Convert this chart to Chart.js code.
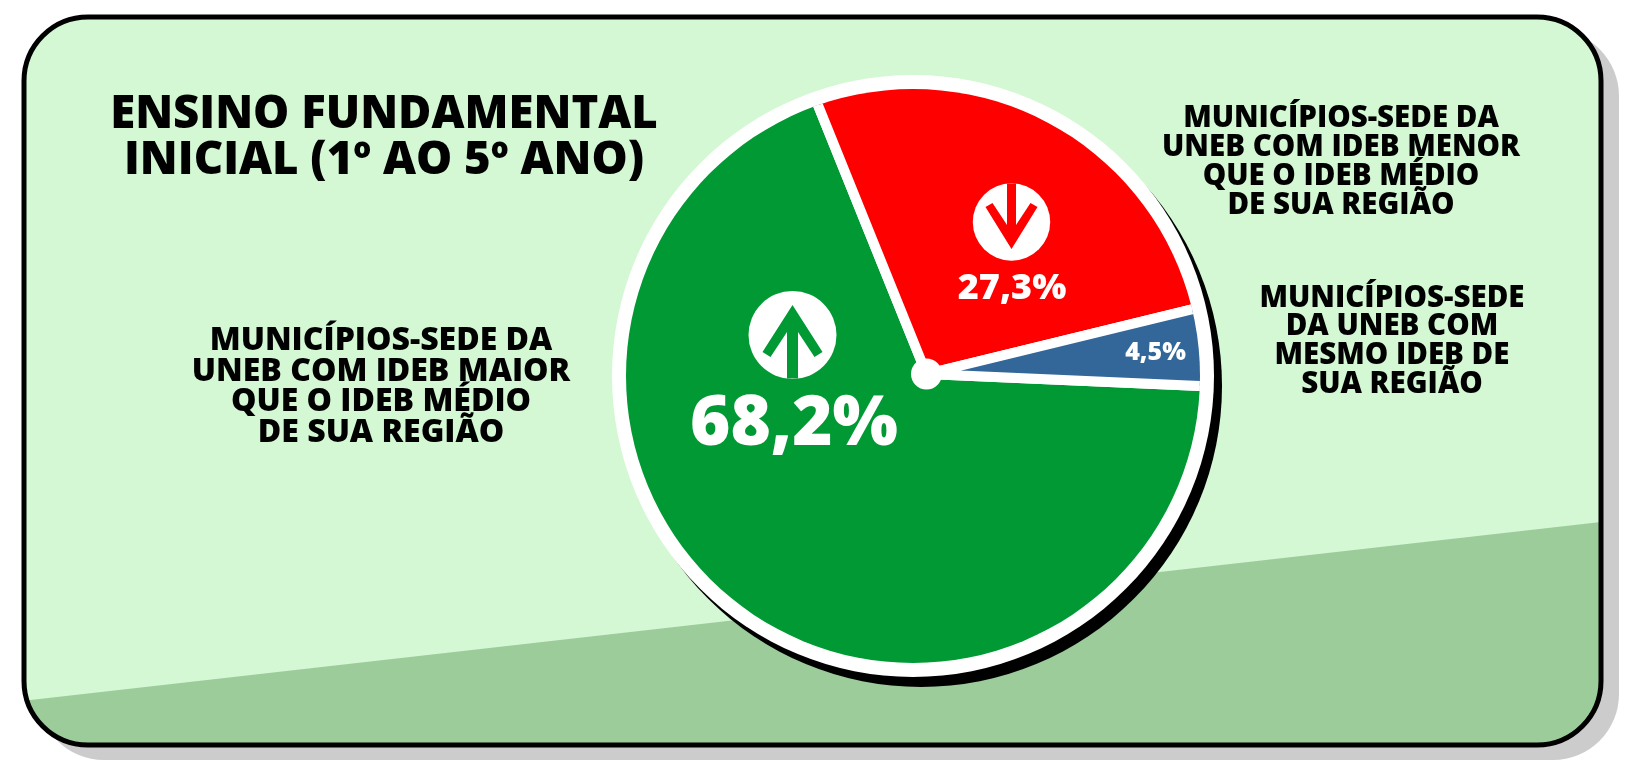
<!DOCTYPE html>
<html lang="pt-BR"><head><meta charset="utf-8">
<style>html,body{margin:0;padding:0;background:#fff;overflow:hidden}canvas{display:block}</style>
<script src="https://cdn.jsdelivr.net/npm/chart.js@4"></script>
</head><body><canvas id="c" width="1644" height="762"></canvas>
<script>
const categories = ["Municípios-sede da UNEB com IDEB maior que o IDEB médio de sua região",
  "Municípios-sede da UNEB com IDEB menor que o IDEB médio de sua região",
  "Municípios-sede da UNEB com mesmo IDEB de sua região"];
const shares = [68.2, 27.3, 4.5];
const sliceColors = ["#009933", "#FF0000", "#336699"];
const titleLines = ["ENSINO FUNDAMENTAL", "INICIAL (1º AO 5º ANO)"];
const maiorLines = ["MUNICÍPIOS-SEDE DA", "UNEB COM IDEB MAIOR", "QUE O IDEB MÉDIO", "DE SUA REGIÃO"];
const menorLines = ["MUNICÍPIOS-SEDE DA", "UNEB COM IDEB MENOR", "QUE O IDEB MÉDIO", "DE SUA REGIÃO"];
const mesmoLines = ["MUNICÍPIOS-SEDE", "DA UNEB COM", "MESMO IDEB DE", "SUA REGIÃO"];

const FONT = '"Open Sans"';
const disc = {x: 913, y: 376, r: 287, ring: 301};
const hub = {x: 926.5, y: 374, r: 15.5, reach: 340};

function poly(ctx, pts) {
  ctx.beginPath();
  pts.forEach((p, i) => i ? ctx.lineTo(p[0], p[1]) : ctx.moveTo(p[0], p[1]));
  ctx.closePath();
  ctx.fill();
}
function circle(ctx, x, y, r, color) {
  ctx.fillStyle = color;
  ctx.beginPath();
  ctx.arc(x, y, r, 0, Math.PI * 2);
  ctx.fill();
}
function card(ctx) {
  ctx.beginPath();
  ctx.roundRect(24, 17, 1577, 728, 64);
}
function textBlock(ctx, lines, cx, ys, size, weight) {
  ctx.fillStyle = "#000";
  ctx.font = `${weight} ${size}px ${FONT}`;
  ctx.textAlign = "center";
  ctx.textBaseline = "middle";
  lines.forEach((l, i) => ctx.fillText(l, cx, ys[i]));
}
const backdrop = {
  id: "backdrop",
  beforeDraw(chart) {
    const ctx = chart.ctx;
    ctx.save();
    ctx.fillStyle = "#CCCCCC";
    ctx.beginPath();
    ctx.roundRect(38, 30, 1581, 730, 66);
    ctx.fill();
    card(ctx);
    ctx.fillStyle = "#D3F8D3";
    ctx.fill();
    ctx.save();
    card(ctx);
    ctx.clip();
    ctx.fillStyle = "#9BCC9A";
    poly(ctx, [[0, 703.5], [1644, 517], [1644, 762], [0, 762]]);
    ctx.restore();
    card(ctx);
    ctx.lineWidth = 5;
    ctx.strokeStyle = "#000";
    ctx.stroke();
    circle(ctx, disc.x + 8, disc.y + 10, disc.ring, "#000");
    circle(ctx, disc.x, disc.y, disc.ring, "#fff");
    ctx.restore();
  },
  beforeDatasetsDraw(chart) {
    const ctx = chart.ctx;
    ctx.save();
    ctx.beginPath();
    ctx.arc(disc.x, disc.y, disc.r, 0, Math.PI * 2);
    ctx.clip();
  },
  afterDatasetsDraw(chart) {
    chart.ctx.restore();
  },
  afterDraw(chart) {
    const ctx = chart.ctx;
    ctx.save();
    circle(ctx, hub.x, hub.y, hub.r, "#fff");
    circle(ctx, 792.5, 335, 44, "#fff");
    ctx.fillStyle = sliceColors[0];
    poly(ctx, [[792.5,305],[822.5,352],[814.5,357],[798,332],[798,378.6],[787,378.6],[787,332],[770.5,357],[762.5,352]]);
    circle(ctx, 1011.5, 222, 38.7, "#fff");
    ctx.fillStyle = sliceColors[1];
    poly(ctx, [[1011.5,249],[985.5,207],[992.5,203],[1007,225],[1007,183.5],[1016,183.5],[1016,225],[1030.5,203],[1037.5,207]]);
    ctx.fillStyle = "#fff";
    ctx.textAlign = "center";
    ctx.textBaseline = "alphabetic";
    const fmt = v => v.toFixed(1).replace(".", ",") + "%";
    ctx.font = `800 69px ${FONT}`;
    ctx.fillText(fmt(shares[0]), 794, 445);
    ctx.font = `800 36px ${FONT}`;
    ctx.fillText(fmt(shares[1]), 1012, 299);
    ctx.font = `800 25px ${FONT}`;
    ctx.fillText(fmt(shares[2]), 1155.5, 360);
    textBlock(ctx, titleLines, 384, [115, 161], 45.5, 800);
    textBlock(ctx, maiorLines, 381, [341, 372, 402, 433], 32, 800);
    textBlock(ctx, menorLines, 1341, [119, 148, 177, 206], 29.5, 800);
    textBlock(ctx, mesmoLines, 1392, [299, 327, 356, 385], 29.5, 800);
    ctx.restore();
  }
};
new Chart(document.getElementById("c"), {
  type: "pie",
  data: {
    labels: categories,
    datasets: [{
      data: shares,
      backgroundColor: sliceColors,
      borderColor: "#fff",
      borderWidth: 10
    }]
  },
  options: {
    responsive: false,
    animation: false,
    rotation: 92.5,
    layout: {padding: {left: hub.x - hub.reach, right: 1644 - hub.x - hub.reach, top: hub.y - hub.reach, bottom: 762 - hub.y - hub.reach}},
    plugins: {legend: {display: false}, tooltip: {enabled: false}, title: {display: false}}
  },
  plugins: [backdrop]
});
</script></body></html>
